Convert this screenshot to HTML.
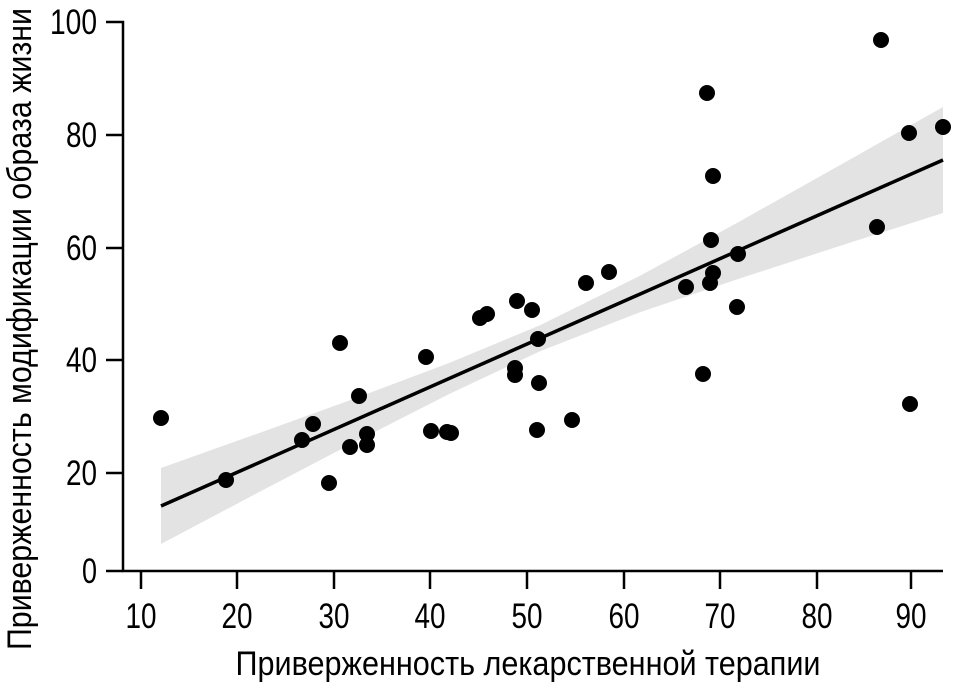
<!DOCTYPE html>
<html><head><meta charset="utf-8"><style>body{margin:0;background:#fff}svg{display:block}</style></head><body>
<svg width="954" height="683" xmlns="http://www.w3.org/2000/svg" font-family="Liberation Sans, DejaVu Sans, sans-serif">
<polygon fill="#e3e3e3" points="161,468 250,436.3 350,400.3 450,362.6 540,325.3 640,275.8 740,221.2 840,165.1 943,107 943,213 840,245.9 740,278.4 640,312.2 540,351.3 450,393.6 350,444.5 250,496.9 161,544"/>
<line x1="161" y1="506" x2="943" y2="160" stroke="#000" stroke-width="3.5"/>
<g fill="#000">
<circle cx="161" cy="418" r="8"/><circle cx="226" cy="480" r="8"/><circle cx="302" cy="440" r="8"/><circle cx="313" cy="424" r="8"/><circle cx="329" cy="483" r="8"/><circle cx="340" cy="343" r="8"/><circle cx="350" cy="447" r="8"/><circle cx="359" cy="396" r="8"/><circle cx="367" cy="445" r="8"/><circle cx="367" cy="434" r="8"/><circle cx="426" cy="357" r="8"/><circle cx="431" cy="431" r="8"/><circle cx="447" cy="432" r="8"/><circle cx="451" cy="433" r="8"/><circle cx="480" cy="318" r="8"/><circle cx="487" cy="314" r="8"/><circle cx="517" cy="301" r="8"/><circle cx="515" cy="368" r="8"/><circle cx="515" cy="375" r="8"/><circle cx="532" cy="310" r="8"/><circle cx="538" cy="339" r="8"/><circle cx="537" cy="430" r="8"/><circle cx="539" cy="383" r="8"/><circle cx="572" cy="420" r="8"/><circle cx="586" cy="283" r="8"/><circle cx="609" cy="272" r="8"/><circle cx="686" cy="287" r="8"/><circle cx="707" cy="93" r="8"/><circle cx="710" cy="283" r="8"/><circle cx="711" cy="240" r="8"/><circle cx="713" cy="273" r="8"/><circle cx="713" cy="176" r="8"/><circle cx="703" cy="374" r="8"/><circle cx="738" cy="254" r="8"/><circle cx="737" cy="307" r="8"/><circle cx="877" cy="227" r="8"/><circle cx="881" cy="40" r="8"/><circle cx="909" cy="133" r="8"/><circle cx="910" cy="404" r="8"/><circle cx="943" cy="127" r="8"/>
</g>
<g stroke="#000" stroke-width="2.5" fill="none">
<polyline points="106,22 123,22 123,571 943,571"/>
<line x1="106" y1="135" x2="123" y2="135"/><line x1="106" y1="248" x2="123" y2="248"/><line x1="106" y1="360" x2="123" y2="360"/><line x1="106" y1="473" x2="123" y2="473"/><line x1="106" y1="571" x2="123" y2="571"/>
<line x1="141" y1="571" x2="141" y2="589"/><line x1="237" y1="571" x2="237" y2="589"/><line x1="334" y1="571" x2="334" y2="589"/><line x1="430" y1="571" x2="430" y2="589"/><line x1="527" y1="571" x2="527" y2="589"/><line x1="624" y1="571" x2="624" y2="589"/><line x1="720" y1="571" x2="720" y2="589"/><line x1="817" y1="571" x2="817" y2="589"/><line x1="911" y1="571" x2="911" y2="589"/>
</g>
<g font-size="35" text-anchor="end" lengthAdjust="spacingAndGlyphs">
<text x="97" y="34" textLength="47" lengthAdjust="spacingAndGlyphs">100</text><text x="97" y="147" textLength="31" lengthAdjust="spacingAndGlyphs">80</text><text x="97" y="260" textLength="31" lengthAdjust="spacingAndGlyphs">60</text><text x="97" y="372" textLength="31" lengthAdjust="spacingAndGlyphs">40</text><text x="97" y="485" textLength="31" lengthAdjust="spacingAndGlyphs">20</text><text x="97" y="583" textLength="15" lengthAdjust="spacingAndGlyphs">0</text>
</g>
<g font-size="35" text-anchor="middle">
<text x="141" y="628" textLength="31" lengthAdjust="spacingAndGlyphs">10</text><text x="237" y="628" textLength="31" lengthAdjust="spacingAndGlyphs">20</text><text x="334" y="628" textLength="31" lengthAdjust="spacingAndGlyphs">30</text><text x="430" y="628" textLength="31" lengthAdjust="spacingAndGlyphs">40</text><text x="527" y="628" textLength="31" lengthAdjust="spacingAndGlyphs">50</text><text x="624" y="628" textLength="31" lengthAdjust="spacingAndGlyphs">60</text><text x="720" y="628" textLength="31" lengthAdjust="spacingAndGlyphs">70</text><text x="817" y="628" textLength="31" lengthAdjust="spacingAndGlyphs">80</text><text x="911" y="628" textLength="31" lengthAdjust="spacingAndGlyphs">90</text>
<text x="528" y="675" font-size="34" textLength="585" lengthAdjust="spacingAndGlyphs">Приверженность лекарственной терапии</text>
<text transform="translate(31,329) rotate(-90)" font-size="34" textLength="642" lengthAdjust="spacingAndGlyphs">Приверженность модификации образа жизни</text>
</g>
</svg>
</body></html>
